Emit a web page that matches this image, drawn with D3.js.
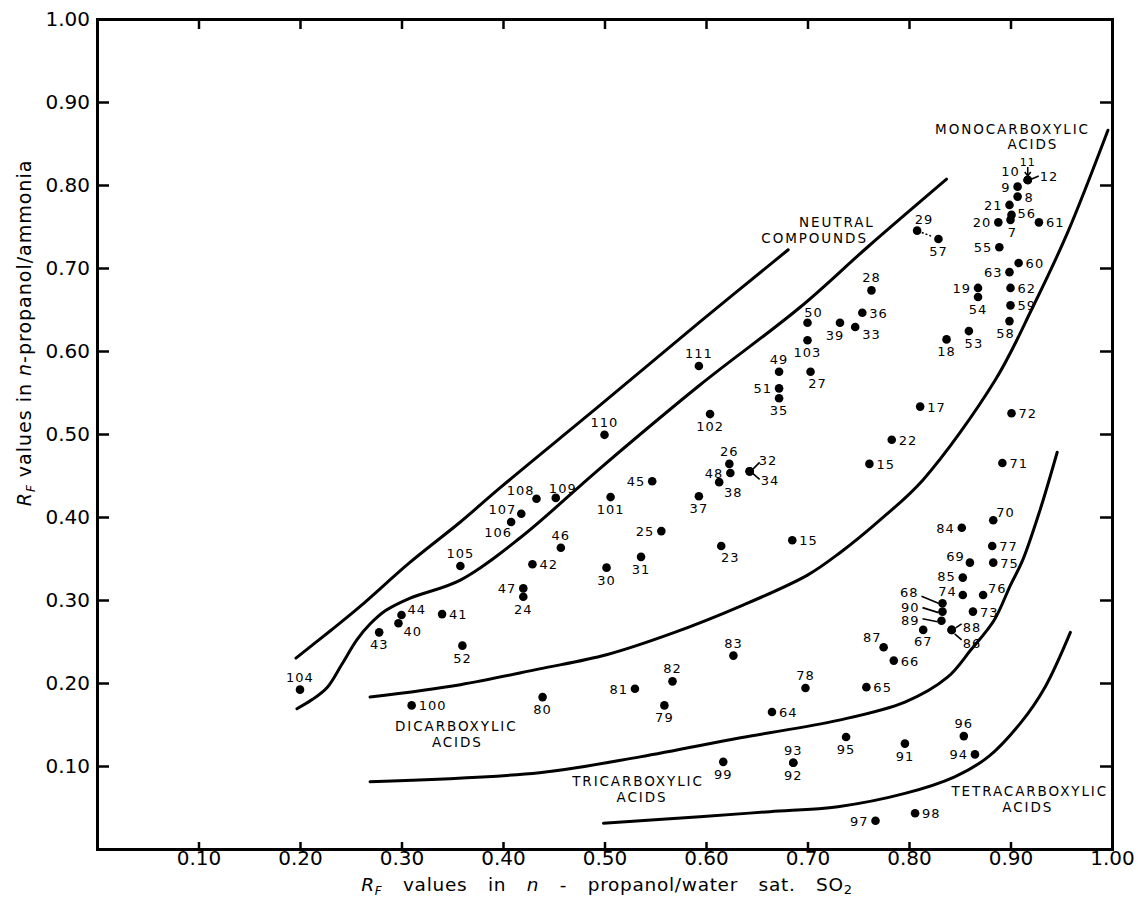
<!DOCTYPE html>
<html><head><meta charset="utf-8">
<script src="https://cdn.jsdelivr.net/npm/d3@7"></script>
<style>
html,body{margin:0;padding:0;background:#fff;}
svg{display:block;font-family:"DejaVu Sans",sans-serif;}
</style></head><body>
<svg id="chart" width="1138" height="897"></svg>
<script>
// ---------- DATA ----------
// compound numbers (the second "15" is the faint ":5" label on the scan)
const compoundIds = ["7","8","9","10","11","12","15","15*","17","18","19","20","21","22","23","24","25","26","27","28","29","30",
"31","32","33","34","35","36","37","38","39","40","41","42","43","44","45","46","47","48","49","50","51","52","53","54","55",
"56","57","58","59","60","61","62","63","64","65","66","67","68","69","70","71","72","73","74","75","76","77","78","79","80",
"81","82","83","84","85","86","87","88","89","90","91","92","93","94","95","96","97","98","99","100","101","102","103","104",
"105","106","107","108","109","110","111"];
// R_F in n-propanol / water sat. SO2
const rfSO2 = [0.900,0.907,0.907,0.917,0.917,0.917,0.685,0.761,0.811,0.837,0.868,0.888,0.899,0.783,0.615,0.420,0.556,0.623,0.703,0.763,0.808,0.502,
0.536,0.643,0.747,0.643,0.672,0.754,0.593,0.613,0.732,0.297,0.340,0.429,0.278,0.300,0.547,0.457,0.420,0.624,0.672,0.700,0.672,0.360,0.859,0.868,0.889,
0.901,0.829,0.899,0.900,0.908,0.928,0.900,0.899,0.665,0.758,0.785,0.814,0.833,0.860,0.883,0.892,0.901,0.863,0.853,0.883,0.873,0.882,0.698,0.559,0.439,
0.530,0.567,0.627,0.852,0.853,0.842,0.775,0.842,0.832,0.833,0.796,0.686,0.686,0.865,0.738,0.854,0.767,0.806,0.617,0.310,0.506,0.604,0.700,0.200,
0.358,0.408,0.418,0.433,0.452,0.500,0.593];
// R_F in n-propanol / ammonia
const rfAmmonia = [0.758,0.786,0.798,0.806,0.806,0.806,0.372,0.464,0.533,0.614,0.676,0.755,0.776,0.493,0.365,0.304,0.383,0.464,0.575,0.673,0.745,0.339,
0.352,0.455,0.629,0.455,0.543,0.646,0.425,0.442,0.634,0.272,0.283,0.343,0.261,0.282,0.443,0.363,0.314,0.453,0.575,0.634,0.555,0.245,0.624,0.665,0.725,
0.764,0.735,0.636,0.655,0.706,0.755,0.676,0.695,0.165,0.195,0.227,0.264,0.296,0.345,0.396,0.465,0.525,0.286,0.306,0.345,0.306,0.365,0.194,0.173,0.183,
0.193,0.202,0.233,0.387,0.327,0.264,0.243,0.264,0.275,0.286,0.127,0.104,0.104,0.114,0.135,0.136,0.034,0.043,0.105,0.173,0.424,0.524,0.613,0.192,
0.341,0.394,0.404,0.422,0.423,0.499,0.582];

// boundary curves (x = R_F SO2, y = R_F ammonia)
const neutralUpperX = [0.196,0.230,0.259,0.308,0.358,0.397,0.496,0.594,0.681];
const neutralUpperY = [0.230,0.263,0.292,0.345,0.394,0.435,0.535,0.635,0.722];
const neutralLowerX = [0.197,0.212,0.227,0.241,0.256,0.269,0.284,0.308,0.358,0.417,0.496,0.594,0.693,0.759,0.837];
const neutralLowerY = [0.169,0.180,0.195,0.222,0.252,0.271,0.287,0.302,0.324,0.375,0.459,0.559,0.653,0.725,0.807];
const monoLowerX = [0.269,0.358,0.436,0.502,0.567,0.633,0.700,0.732,0.771,0.814,0.885,0.922,0.956,0.996];
const monoLowerY = [0.183,0.198,0.217,0.234,0.260,0.292,0.330,0.357,0.396,0.445,0.565,0.653,0.742,0.866];
const diLowerX = [0.269,0.436,0.535,0.634,0.730,0.796,0.838,0.861,0.884,0.900,0.912,0.929,0.946];
const diLowerY = [0.081,0.092,0.111,0.134,0.155,0.177,0.207,0.240,0.276,0.318,0.348,0.408,0.478];
const triLowerX = [0.499,0.594,0.663,0.730,0.796,0.845,0.878,0.910,0.934,0.959];
const triLowerY = [0.031,0.039,0.045,0.051,0.067,0.087,0.111,0.152,0.195,0.261];

const xTickValues = [0.1,0.2,0.3,0.4,0.5,0.6,0.7,0.8,0.9,1.0];
const xTickLabels = ["0.10","0.20","0.30","0.40","0.50","0.60","0.70","0.80","0.90","1.00"];
const yTickValues = [0.1,0.2,0.3,0.4,0.5,0.6,0.7,0.8,0.9,1.0];
const yTickLabels = ["0.10","0.20","0.30","0.40","0.50","0.60","0.70","0.80","0.90","1.00"];

const groupNames = [["MONOCARBOXYLIC","ACIDS"],["NEUTRAL","COMPOUNDS"],["DICARBOXYLIC","ACIDS"],["TRICARBOXYLIC","ACIDS"],["TETRACARBOXYLIC","ACIDS"]];
const groupNameX = [[0.902,0.922],[0.729,0.707],[0.354,0.355],[0.533,0.537],[0.919,0.917]];
const groupNameY = [[0.862,0.843],[0.749,0.730],[0.142,0.123],[0.076,0.057],[0.064,0.045]];

// ---------- LAYOUT / STYLE ----------
const svg = d3.select("#chart");
const x = d3.scaleLinear().domain([0,1]).range([97,1112]);
const y = d3.scaleLinear().domain([0,1]).range([849,19]);

const R=[7,5,"start"], L=[-7,5,"end"], T=[0,-8,"middle"], B=[0,17,"middle"];
const place = {
 "7":[2,17,"middle"],"8":R,"9":L,"10":[-8,-4,"end"],"11":[0,-14,"middle"],"12":[12,1,"start"],
 "18":B,"19":L,"20":L,"21":L,"23":[9,16,"middle"],"24":B,"25":L,"26":T,"27":[7,16,"middle"],"28":T,
 "29":[7,-7,"middle"],"30":B,"31":B,"32":[9,-6,"start"],"33":[7,12,"start"],"34":[11,14,"start"],
 "35":B,"37":B,"38":[14,15,"middle"],"39":[-5,17,"middle"],"40":[5,13,"start"],"43":B,"44":[6,-1,"start"],
 "45":L,"46":T,"47":L,"48":L,"49":T,"50":[6,-6,"middle"],"51":L,"52":B,"53":[5,17,"middle"],"54":B,"55":L,
 "56":[6,3,"start"],"57":B,"58":[-4,17,"middle"],"63":L,"67":[0,16,"middle"],
 "68":[-24,-6,"end"],"90":[-23,0,"end"],"89":[-22,4,"end"],"69":[-5,-2,"end"],"70":[3,-3,"start"],
 "74":[-6,1,"end"],"85":[-7,3,"end"],"76":[5,-2,"start"],"78":T,"79":B,"80":B,"81":L,"82":T,"83":T,"84":L,
 "86":[11,18,"start"],"88":[11,2,"start"],"87":[-2,-5,"end"],"91":B,"92":B,"93":T,"94":L,"95":B,"96":T,
 "97":L,"99":B,"101":B,"102":B,"103":B,"104":T,"105":T,"106":[-13,15,"middle"],"107":[-5,0,"end"],
 "108":[-2,-4,"end"],"109":[7,-5,"middle"],"110":T,"111":T
};
const leaders = {
 "12":[4,-1,11,-4],"32":[3,-2,10,-9],"34":[3,2,10,8],
 "68":[-21,-7,-4,0],"90":[-20,-4,-4,1],"89":[-19,-2,-4,1],"86":[3,4,10,10],"88":[4,-2,10,-6]
};

const points = compoundIds.map((id,i)=>({id, label:id.replace("*",""), sx:rfSO2[i], sa:rfAmmonia[i]}));
const byId = {}; points.forEach(p=>byId[p.id]=p);

// axes
const fmtX = (d)=>xTickLabels[xTickValues.indexOf(d)];
const fmtY = (d)=>yTickLabels[yTickValues.indexOf(d)];
function styleAxis(g){
  g.select(".domain").attr("stroke","#000").attr("stroke-width",3).attr("stroke-linecap","square");
  g.selectAll(".tick line").attr("stroke","#000").attr("stroke-width",2.5);
  g.selectAll(".tick text").attr("fill","#000").attr("font-size",20).attr("font-family","DejaVu Sans, sans-serif");
}
svg.append("g").attr("transform","translate(0,19)")
  .call(d3.axisTop(x).tickValues(xTickValues).tickFormat("").tickSizeInner(-10).tickSizeOuter(0)).call(styleAxis);
svg.append("g").attr("transform","translate(1112,0)")
  .call(d3.axisRight(y).tickValues(yTickValues).tickFormat("").tickSizeInner(-12).tickSizeOuter(0)).call(styleAxis);
svg.append("g").attr("transform","translate(0,849)")
  .call(d3.axisBottom(x).tickValues(xTickValues).tickFormat(fmtX).tickSizeInner(-7).tickSizeOuter(0).tickPadding(2)).call(styleAxis);
svg.append("g").attr("transform","translate(97,0)")
  .call(d3.axisLeft(y).tickValues(yTickValues).tickFormat(fmtY).tickSizeInner(-12).tickSizeOuter(0).tickPadding(7)).call(styleAxis);

// curves
const line = d3.line().x(d=>x(d[0])).y(d=>y(d[1])).curve(d3.curveCatmullRom.alpha(0.5));
[[neutralUpperX,neutralUpperY],[neutralLowerX,neutralLowerY],[monoLowerX,monoLowerY],[diLowerX,diLowerY],[triLowerX,triLowerY]]
 .forEach(([xs,ys])=>{
   svg.append("path").datum(xs.map((v,i)=>[v,ys[i]])).attr("d",line)
     .attr("fill","none").attr("stroke","#000").attr("stroke-width",3).attr("stroke-linecap","round");
 });

// leader lines
Object.entries(leaders).forEach(([id,o])=>{
  const p=byId[id]; const px=x(p.sx), py=y(p.sa);
  svg.append("line").attr("x1",px+o[0]).attr("y1",py+o[1]).attr("x2",px+o[2]).attr("y2",py+o[3])
    .attr("stroke","#000").attr("stroke-width",1.6);
});
// arrow for 11
{
  const p=byId["11"]; const px=x(p.sx), py=y(p.sa);
  svg.append("line").attr("x1",px).attr("y1",py-13).attr("x2",px).attr("y2",py-5).attr("stroke","#000").attr("stroke-width",1.6);
  svg.append("path").attr("d",`M${px-3},${py-8}L${px},${py-4}L${px+3},${py-8}`).attr("fill","none").attr("stroke","#000").attr("stroke-width",1.5);
}
// dashed pointer 29 -> 57
{
  const a=byId["29"], b=byId["57"];
  const ax=x(a.sx), ay=y(a.sa), bx=x(b.sx), by=y(b.sa);
  svg.append("line").attr("x1",ax+(bx-ax)*0.22).attr("y1",ay+(by-ay)*0.22).attr("x2",ax+(bx-ax)*0.72).attr("y2",ay+(by-ay)*0.72)
    .attr("stroke","#000").attr("stroke-width",1.5).attr("stroke-dasharray","2,2");
}

// points
svg.append("g").selectAll("circle").data(points).join("circle")
  .attr("cx",d=>x(d.sx)).attr("cy",d=>y(d.sa)).attr("r",4.3).attr("fill","#000");

// point labels
svg.append("g").selectAll("text").data(points).join("text")
  .attr("x",d=>x(d.sx)+(place[d.id]||R)[0])
  .attr("y",d=>y(d.sa)+(place[d.id]||R)[1])
  .attr("text-anchor",d=>(place[d.id]||R)[2])
  .attr("font-size",d=>d.id==="11"?11:13)
  .attr("letter-spacing",1)
  .attr("fill","#000")
  .text(d=>d.label);

// group names
groupNames.forEach((lines,gi)=>{
  lines.forEach((t,li)=>{
    svg.append("text").attr("x",x(groupNameX[gi][li])).attr("y",y(groupNameY[gi][li]))
      .attr("text-anchor","middle").attr("font-size",13.5).attr("letter-spacing",1.9).attr("fill","#000").text(t);
  });
});

// axis titles
const xt = svg.append("text").attr("x",607).attr("y",891).attr("text-anchor","middle")
  .attr("font-size",18.5).attr("word-spacing",14).attr("letter-spacing",0.7).attr("fill","#000");
xt.append("tspan").attr("font-style","italic").text("R");
xt.append("tspan").attr("font-style","italic").attr("font-size",12).attr("dy",4).text("F");
xt.append("tspan").attr("dy",-4).text(" values in ");
xt.append("tspan").attr("font-style","italic").text("n");
xt.append("tspan").text(" - propanol/water sat. SO");
xt.append("tspan").attr("font-size",13).attr("dy",3).text("2");

const yt = svg.append("text").attr("transform","translate(31,333) rotate(-90)").attr("text-anchor","middle")
  .attr("font-size",19).attr("letter-spacing",1).attr("fill","#000");
yt.append("tspan").attr("font-style","italic").text("R");
yt.append("tspan").attr("font-style","italic").attr("font-size",12).attr("dy",4).text("F");
yt.append("tspan").attr("dy",-4).text(" values in ");
yt.append("tspan").attr("font-style","italic").text("n");
yt.append("tspan").text("-propanol/ammonia");
</script>
</body></html>
